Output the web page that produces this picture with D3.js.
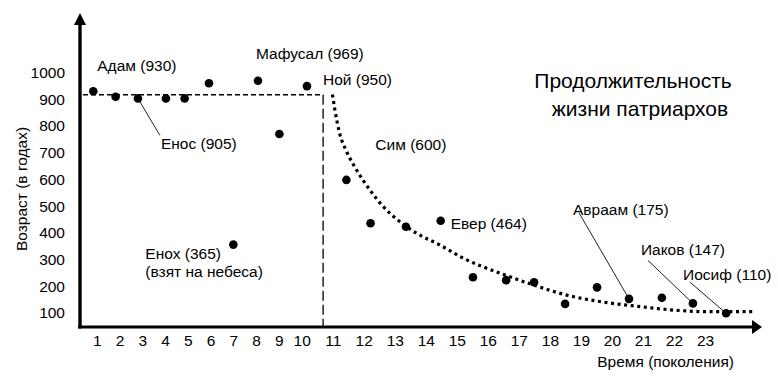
<!DOCTYPE html>
<html>
<head>
<meta charset="utf-8">
<script src="https://cdn.jsdelivr.net/npm/d3@7"></script>
<style>
  body { margin: 0; background: #fff; }
  svg { display: block; font-family: "Liberation Sans", Arial, sans-serif; }
  .tick text { fill: #000; }
</style>
</head>
<body>
<svg id="chart" width="778" height="379"></svg>
<script>
// tick labels
const genTicks = d3.range(1, 24);
const ageTicks = d3.range(100, 1001, 100);

// patriarchs: generation where the dot is drawn (read off the picture,
// dots sit a bit right of the numbers in the original) and age
const gen = [0.85, 1.83, 2.81, 4.04, 4.86, 5.93, 7.0, 8.08, 9.02, 10.17,
  11.44, 12.22, 13.36, 14.48, 15.52, 16.59, 17.49, 18.49, 19.52, 20.55,
  21.61, 22.61, 23.68];
const age = [930, 909, 903, 903, 903, 960, 356, 969, 770, 949,
  598, 436, 423, 445, 234, 223, 215, 134, 196, 153,
  157, 136, 99];

// labelled points (index into the arrays above) and their text
const labelIdx = [0, 2, 7, 9, 10, 13, 6, 19, 21, 22];
const labelText = ['Адам (930)', 'Енос (905)', 'Мафусал (969)', 'Ной (950)',
  'Сим (600)', 'Евер (464)', 'Енох (365)', 'Авраам (175)', 'Иаков (147)',
  'Иосиф (110)'];

// flat level before the flood and where it ends
const plateauAge = 917;
const floodGen = 10.69;

// decay trend after the flood
const trendGen = [10.99, 11.07, 11.21, 11.45, 11.77, 12.2, 12.63, 13.17, 13.71,
  14.46, 15.21, 16.39, 17.47, 18.54, 19.83, 20.91, 21.98, 23.06, 24.56];
const trendAge = [918, 860, 778, 704, 635, 560, 498, 441, 398,
  354, 305, 249, 205, 167, 139, 124, 111, 105, 105];

// layout
const axis = { left: 80, bottom: 327, top: 13, right: 762 };
const fs = 15.5;

// label offsets from their dot, px (same order as labelIdx)
const labelOff = [[4, -20], [23, 51], [-2, -22], [16, -1], [29, -30],
  [10, 8], [-88, 14], [-56, -84], [-52, -48], [-43, -33]];
// leader lines: start offset from dot (end is at the dot)
const leaders = { 1: [22, 37], 7: [-50, -86], 8: [-45, -43], 9: [-36, -31] };

const svg = d3.select('#chart');

const x = d3.scaleLinear().domain([1, 10, 23]).range([96.7, 301.7, 705]);
const y = d3.scaleLinear().domain([100, 1000]).range([313, 72.5]);

const pts = gen.map((g, i) => ({ x: x(g), y: y(age[i]) }));

// dashed plateau + flood line
svg.append('line')
  .attr('x1', axis.left + 3).attr('x2', x(floodGen))
  .attr('y1', y(plateauAge)).attr('y2', y(plateauAge))
  .attr('stroke', '#000').attr('stroke-width', 1.4)
  .attr('stroke-dasharray', '5,3');
svg.append('line')
  .attr('x1', x(floodGen)).attr('x2', x(floodGen))
  .attr('y1', y(plateauAge)).attr('y2', axis.bottom)
  .attr('stroke', '#000').attr('stroke-width', 1.3)
  .attr('stroke-dasharray', '10,4');

// dotted trend
const trendLine = d3.line()
  .x(d => x(d[0]))
  .y(d => y(d[1]))
  .curve(d3.curveMonotoneX);
svg.append('path')
  .attr('d', trendLine(trendGen.map((g, i) => [g, trendAge[i]])))
  .attr('fill', 'none')
  .attr('stroke', '#000')
  .attr('stroke-width', 3.2)
  .attr('stroke-dasharray', '3,3.6');

// leader lines
Object.keys(leaders).forEach(k => {
  const p = pts[labelIdx[k]];
  const s = leaders[k];
  svg.append('line')
    .attr('x1', p.x + s[0]).attr('y1', p.y + s[1])
    .attr('x2', p.x).attr('y2', p.y)
    .attr('stroke', '#222').attr('stroke-width', 1);
});

// dots
svg.append('g').selectAll('circle')
  .data(pts)
  .join('circle')
  .attr('cx', d => d.x)
  .attr('cy', d => d.y)
  .attr('r', 4.3)
  .attr('fill', '#000');

// axes lines + arrows
svg.append('line')
  .attr('x1', axis.left).attr('x2', axis.left)
  .attr('y1', axis.bottom + 1.5).attr('y2', axis.top + 8)
  .attr('stroke', '#000').attr('stroke-width', 3.4);
svg.append('line')
  .attr('x1', axis.left - 1.7).attr('x2', axis.right - 8)
  .attr('y1', axis.bottom).attr('y2', axis.bottom)
  .attr('stroke', '#000').attr('stroke-width', 3.2);
svg.append('path')
  .attr('d', `M${axis.left},${axis.top} l-6,12 l12,0 z`)
  .attr('fill', '#000');
svg.append('path')
  .attr('d', `M${axis.right},${axis.bottom} l-10,-7 l0,14 z`)
  .attr('fill', '#000');

// tick labels
const gy = svg.append('g')
  .attr('transform', `translate(${axis.left},0)`)
  .call(d3.axisLeft(y).tickValues(ageTicks).tickFormat(d3.format('d'))
    .tickSize(0).tickPadding(15));
gy.select('.domain').remove();
gy.selectAll('text').attr('font-size', fs).attr('font-family', null);

const gx = svg.append('g')
  .attr('transform', `translate(0,${axis.bottom})`)
  .call(d3.axisBottom(x).tickValues(genTicks).tickSize(0).tickPadding(8));
gx.select('.domain').remove();
gx.selectAll('text').attr('font-size', fs).attr('font-family', null);

// point labels
labelIdx.forEach((idx, i) => {
  const p = pts[idx];
  svg.append('text')
    .attr('x', p.x + labelOff[i][0])
    .attr('y', p.y + labelOff[i][1])
    .attr('font-size', fs)
    .text(labelText[i]);
});
// second line under Enoch
svg.append('text')
  .attr('x', pts[6].x + labelOff[6][0])
  .attr('y', pts[6].y + labelOff[6][1] + 18)
  .attr('font-size', fs)
  .text('(взят на небеса)');

// axis titles
svg.append('text')
  .attr('transform', 'translate(27,189) rotate(-90)')
  .attr('text-anchor', 'middle')
  .attr('font-size', fs)
  .text('Возраст (в годах)');
svg.append('text')
  .attr('x', 734).attr('y', 367)
  .attr('text-anchor', 'end')
  .attr('font-size', fs)
  .text('Время (поколения)');

// title
svg.append('text')
  .attr('x', 633).attr('y', 88)
  .attr('text-anchor', 'middle')
  .attr('font-size', 21)
  .text('Продолжительность');
svg.append('text')
  .attr('x', 640).attr('y', 116)
  .attr('text-anchor', 'middle')
  .attr('font-size', 21)
  .text('жизни патриархов');
</script>
</body>
</html>
